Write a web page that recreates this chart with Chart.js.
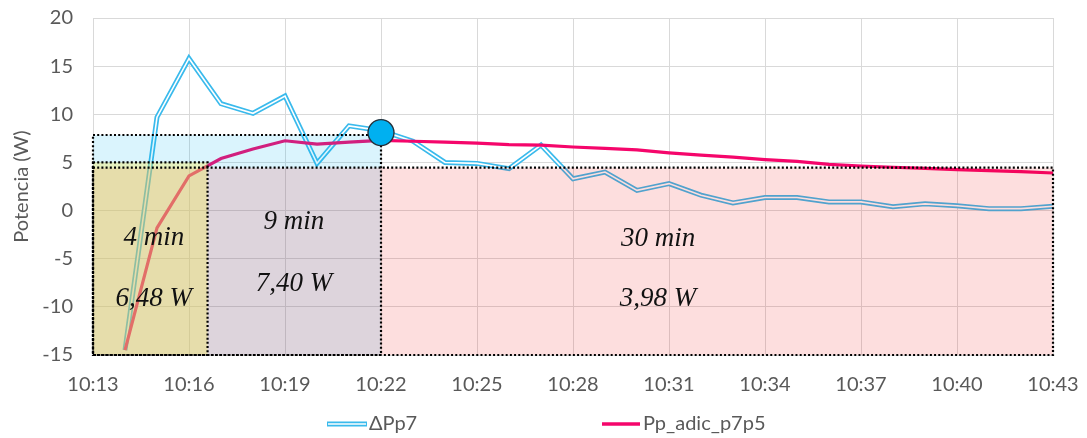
<!DOCTYPE html>
<html><head><meta charset="utf-8">
<script src="https://cdn.jsdelivr.net/npm/chart.js@4/dist/chart.umd.min.js"></script>
<style>html,body{margin:0;padding:0;background:#fff}#wrap{width:1087px;height:438px;position:relative}</style>
</head><body><div id="wrap"><canvas id="c"></canvas></div>
<script>
// Categories (one per minute)
const times = ['10:13','10:14','10:15','10:16','10:17','10:18','10:19','10:20','10:21','10:22','10:23','10:24','10:25','10:26','10:27','10:28','10:29','10:30','10:31','10:32','10:33','10:34','10:35','10:36','10:37','10:38','10:39','10:40','10:41','10:42','10:43'];
// Tick labels shown on the x axis
const xTickLabels = ['10:13','10:16','10:19','10:22','10:25','10:28','10:31','10:34','10:37','10:40','10:43'];
// Series
const deltaPp7 = [null,-14.5,9.7,15.8,11.1,10.1,11.9,4.9,8.8,8.3,7.2,5.0,4.9,4.35,6.8,3.3,4.0,2.1,2.8,1.6,0.8,1.35,1.35,0.9,0.9,0.4,0.7,0.5,0.2,0.2,0.45];
const ppAdic = [null,-14.5,-1.8,3.6,5.4,6.4,7.25,6.9,7.1,7.3,7.2,7.1,7.0,6.85,6.8,6.6,6.45,6.3,6.0,5.75,5.55,5.3,5.1,4.8,4.63,4.5,4.38,4.25,4.15,4.05,3.9];
const seriesNames = ['\u0394Pp7','Pp_adic_p7p5'];
// Highlighted point
const markerTime = '10:22';
const markerValue = 8.1;
// Shaded periods (minutes after 10:13, power in W)
const periodFrom = [0, 0, 0];
const periodTo = [9, 30, 3.58];
const periodTop = [7.85, 4.45, 5.0];
const periodBottom = -15;
// Period annotations
const periodDuration = ['4 min','9 min','30 min'];
const periodPower = ['6,48 W','7,40 W','3,98 W'];
const labelMinute = [1.9, 6.28, 17.66];
const durationY = [-2.85, -1.2, -2.95];
const powerY = [-9.2, -7.6, -9.2];

const BLUE = '#3ABAEC', RED = '#F5066B', GRAY = '#595959', GRID = '#D9D9D9';
const boxFills = ['rgba(0,176,240,0.145)','rgba(240,0,0,0.13)','rgba(244,235,97,0.4)'];

const overlayPlugin = {
  id: 'overlay',
  beforeDatasetDraw(chart, args) {
    if (args.meta.label !== 'marker') return;
    const ctx = chart.ctx, x = chart.scales.x, y = chart.scales.y;
    ctx.save();
    for (let i = 0; i < periodFrom.length; i++) {
      const x0 = x.getPixelForValue(periodFrom[i]), x1 = x.getPixelForValue(periodTo[i]);
      const y0 = y.getPixelForValue(periodTop[i]), y1 = y.getPixelForValue(periodBottom);
      ctx.fillStyle = boxFills[i];
      ctx.fillRect(x0, y0, x1 - x0, y1 - y0);
    }
    ctx.strokeStyle = '#000';
    ctx.lineWidth = 2.2;
    ctx.setLineDash([2, 2.2]);
    for (let i = 0; i < periodFrom.length; i++) {
      const x0 = x.getPixelForValue(periodFrom[i]), x1 = x.getPixelForValue(periodTo[i]);
      const y0 = y.getPixelForValue(periodTop[i]), y1 = y.getPixelForValue(periodBottom);
      ctx.strokeRect(x0, y0, x1 - x0, y1 - y0);
    }
    ctx.setLineDash([]);
    ctx.fillStyle = '#111';
    ctx.font = 'italic 27px "Liberation Serif"';
    ctx.textAlign = 'center';
    ctx.textBaseline = 'middle';
    for (let i = 0; i < periodDuration.length; i++) {
      const px = x.getPixelForValue(labelMinute[i]);
      ctx.fillText(periodDuration[i], px, y.getPixelForValue(durationY[i]));
      ctx.fillText(periodPower[i], px, y.getPixelForValue(powerY[i]));
    }
    ctx.restore();
  },
  afterDraw(chart) {
    const ctx = chart.ctx;
    ctx.save();
    const ly = 424;
    ctx.lineCap = 'butt';
    ctx.strokeStyle = BLUE; ctx.lineWidth = 5;
    ctx.beginPath(); ctx.moveTo(327, ly); ctx.lineTo(367, ly); ctx.stroke();
    ctx.strokeStyle = '#fff'; ctx.lineWidth = 1.5;
    ctx.beginPath(); ctx.moveTo(328, ly); ctx.lineTo(366, ly); ctx.stroke();
    ctx.strokeStyle = RED; ctx.lineWidth = 3.5;
    ctx.beginPath(); ctx.moveTo(602, ly); ctx.lineTo(640, ly); ctx.stroke();
    ctx.fillStyle = GRAY;
    ctx.font = '20px Lato';
    ctx.textBaseline = 'middle';
    ctx.textAlign = 'left';
    ctx.fillText(seriesNames[0], 369, ly);
    ctx.fillText(seriesNames[1], 643, ly);
    ctx.restore();
  }
};

new Chart(document.getElementById('c'), {
  type: 'line',
  data: {
    labels: times,
    datasets: [
      { label: 'marker', data: [{x: markerTime, y: markerValue}], showLine: false,
        pointRadius: 13, pointHoverRadius: 13, pointBackgroundColor: '#00B0F0',
        pointBorderColor: '#26323C', pointBorderWidth: 1.4, order: 1 },
      { label: seriesNames[1], data: ppAdic, borderColor: RED, borderWidth: 3.2,
        pointRadius: 0, tension: 0, order: 2 },
      { label: 'inner', data: deltaPp7, borderColor: '#fff', borderWidth: 1.6,
        pointRadius: 0, tension: 0, order: 3 },
      { label: seriesNames[0], data: deltaPp7, borderColor: BLUE, borderWidth: 5,
        pointRadius: 0, tension: 0, order: 4 }
    ]
  },
  options: {
    responsive: true, maintainAspectRatio: false, animation: false,
    layout: { padding: { top: 18, right: 34, bottom: 33, left: 0 } },
    plugins: { legend: { display: false }, tooltip: { enabled: false } },
    scales: {
      x: {
        type: 'category', offset: false,
        grid: { color: c => (c.index % 3 === 0 ? GRID : 'rgba(0,0,0,0)'), drawTicks: true, tickLength: 18, tickColor: 'rgba(0,0,0,0)', lineWidth: 1 },
        border: { display: false },
        ticks: { autoSkip: false, maxRotation: 0, padding: 0, color: GRAY,
          font: { family: 'Lato', size: 20 },
          callback: function(v, i) { const l = times[i]; return xTickLabels.includes(l) ? l : ''; } },
        afterFit: s => { s.height = 50; }
      },
      y: {
        min: -15, max: 20,
        grid: { color: GRID, drawTicks: true, tickLength: 20, tickColor: 'rgba(0,0,0,0)' },
        border: { display: true, color: GRID },
        ticks: { stepSize: 5, padding: 0, color: GRAY, font: { family: 'Lato', size: 20 } },
        title: { display: true, text: 'Potencia (W)', color: GRAY, font: { family: 'Lato', size: 20 }, padding: { top: 10, bottom: 0 } },
        afterFit: s => { s.width = 93; }
      }
    }
  },
  plugins: [overlayPlugin]
});
</script></body></html>
